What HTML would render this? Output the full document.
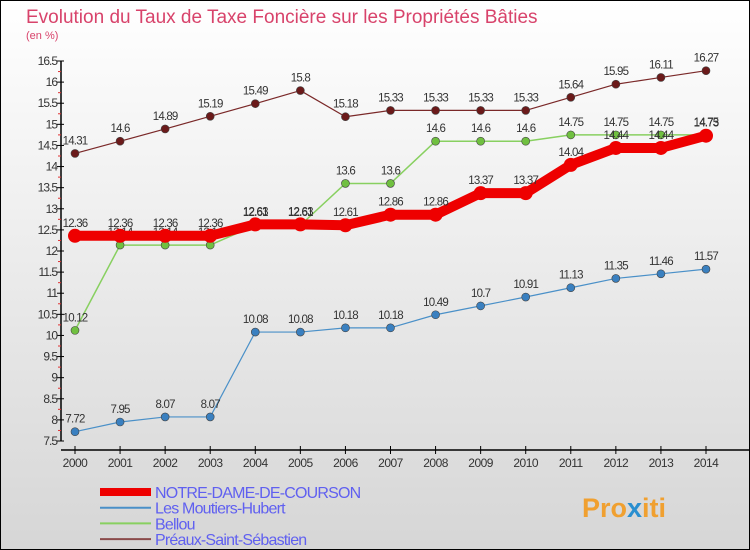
<!DOCTYPE html>
<html><head><meta charset="utf-8"><style>
body{margin:0}
svg{display:block;font-family:"Liberation Sans",sans-serif}
</style></head><body>
<svg width="750" height="550" xmlns="http://www.w3.org/2000/svg">
<defs><linearGradient id="bg" x1="0" y1="0" x2="0" y2="1"><stop offset="0" stop-color="#ffffff"/><stop offset="1" stop-color="#d6d6d6"/></linearGradient></defs>
<rect x="0.5" y="0.5" width="749" height="549" fill="url(#bg)" stroke="#000"/>
<text x="26" y="23" font-size="19" fill="#d8436b">Evolution du Taux de Taxe Foncière sur les Propriétés Bâties</text>
<text x="26" y="39" font-size="11" fill="#d8436b">(en %)</text>
<g id="axes"></g>
<g id="series"></g>
<g id="legend"></g>
<text x="582" y="517" font-size="27" font-weight="bold" fill="#f0a030">Pro<tspan fill="#2a8fd0">x</tspan>iti</text>
</svg>
<script>
const years=[2000,2001,2002,2003,2004,2005,2006,2007,2008,2009,2010,2011,2012,2013,2014];
const notreDame=[12.36,12.36,12.36,12.36,12.63,12.63,12.61,12.86,12.86,13.37,13.37,14.04,14.44,14.44,14.73];
const moutiers=[7.72,7.95,8.07,8.07,10.08,10.08,10.18,10.18,10.49,10.7,10.91,11.13,11.35,11.46,11.57];
const bellou=[10.12,12.14,12.14,12.14,12.61,12.61,13.6,13.6,14.6,14.6,14.6,14.75,14.75,14.75,14.75];
const preaux=[14.31,14.6,14.89,15.19,15.49,15.8,15.18,15.33,15.33,15.33,15.33,15.64,15.95,16.11,16.27];
const yTicks=[7.5,8,8.5,9,9.5,10,10.5,11,11.5,12,12.5,13,13.5,14,14.5,15,15.5,16,16.5];
const seriesNames=["NOTRE-DAME-DE-COURSON","Les Moutiers-Hubert","Bellou","Préaux-Saint-Sébastien"];

const NS="http://www.w3.org/2000/svg";
const yMin=7.5,yMax=16.5,yTop=61,yBot=441;
const x=i=>75+i*(706-75)/(years.length-1);
const y=v=>yBot-(v-yMin)*(yBot-yTop)/(yMax-yMin);
function mk(tag,attrs,parent){const e=document.createElementNS(NS,tag);for(const k in attrs)e.setAttribute(k,attrs[k]);parent.appendChild(e);return e;}
const axes=document.getElementById('axes');
const yAxis=mk('line',{x1:61,y1:yTop,x2:61,y2:yBot,stroke:'#000','stroke-width':1.5},axes);


yTicks.forEach((t,k)=>{
  const ty=y(t);
  const tl=mk('line',{x1:57,y1:ty,x2:64,y2:ty,stroke:'#000'},axes);
  
  
  const tx=mk('text',{x:57,y:ty+4,'font-size':12,'text-anchor':'end',fill:'#333','letter-spacing':'-1'},axes);
  tx.textContent=String(t);
  
  
  if(k<yTicks.length-1){const my=y(t+0.25);
    const m=mk('line',{x1:58,y1:my,x2:61,y2:my,stroke:'#e03030'},axes);
    
    }
});
const xAxis=mk('line',{x1:61,y1:450,x2:750,y2:450,stroke:'#000','stroke-width':1.5},axes);


years.forEach((yr,i)=>{
  const tl=mk('line',{x1:x(i),y1:446,x2:x(i),y2:454,stroke:'#000'},axes);
  
  
  const tx=mk('text',{x:x(i),y:467,'font-size':12,'text-anchor':'middle',fill:'#333','letter-spacing':'-0.5'},axes);
  tx.textContent=String(yr);
  
  
});
const sg=document.getElementById('series');
const defs=[
 {d:preaux,c:'#7a2828',dot:'#6b1a1a',w:1.2,r:4,name:'preaux'},
 {d:moutiers,c:'#4a90c8',dot:'#3a80c0',w:1.2,r:4,name:'moutiers'},
 {d:bellou,c:'#88d060',dot:'#70c040',w:1.5,r:4,name:'bellou'},
 {d:notreDame,c:'#ee0000',dot:'#ee0000',w:10,r:7,name:'notre-dame'}
];
defs.forEach(s=>{
  const g=mk('g',{},sg);
  
  
  const p=mk('polyline',{points:s.d.map((v,i)=>x(i)+','+y(v)).join(' '),fill:'none',stroke:s.c,'stroke-width':s.w,'stroke-linejoin':'round'},g);
  
  
  s.d.forEach((v,i)=>{
    const c=mk('circle',{cx:x(i),cy:y(v),r:s.r,fill:s.dot,stroke:s.w>5?'none':'#444','stroke-width':0.6},g);
    
    
    const t=mk('text',{x:x(i),y:y(v)-9,'font-size':11.5,'text-anchor':'middle',fill:'#333','letter-spacing':'-0.8'},g);
    t.textContent=String(v);
    
    
  });
});
const lg=document.getElementById('legend');
const lcols=['#ee0000','#4a90c8','#88d060','#8a4a4a'],lw=[8,2,2,2];
seriesNames.forEach((n,k)=>{
  const ly=492+k*15.7;
  const g=mk('g',{},lg);
  
  
  mk('line',{x1:100,y1:ly,x2:151,y2:ly,stroke:lcols[k],'stroke-width':lw[k]},g);
  const t=mk('text',{x:155,y:ly+6,'font-size':16,fill:'#6060f0','letter-spacing':'-0.8'},g);
  t.textContent=n;
});
</script>
</body></html>
